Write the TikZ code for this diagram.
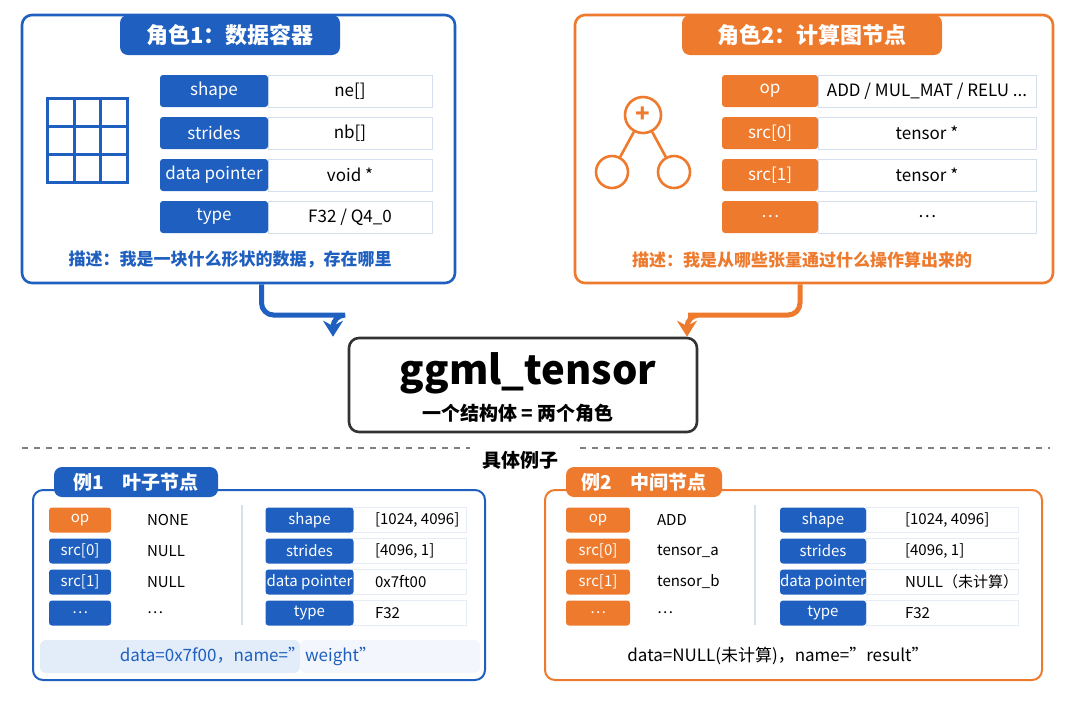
\documentclass[tikz,border=0pt]{standalone}
\usepackage{fontspec}
\setmainfont{Noto Sans CJK SC}
\usetikzlibrary{arrows.meta}
\definecolor{tblue}{HTML}{1E5FBF}
\definecolor{torange}{HTML}{EE7A2E}
\definecolor{lblue}{HTML}{E3EDFA}
\definecolor{cellline}{HTML}{D5DFEE}
\newcommand{\dq}{\symbol{34}}
\tikzset{
  px/.style={x=0.5pt,y=-0.5pt},
  role box/.style={draw=#1,line width=1.3pt,rounded corners=5pt,fill=white},
  role tab/.style={fill=#1,rounded corners=4pt,text=white,font=\fontsize{11}{13}\selectfont\bfseries,inner sep=0pt},
  key/.style={fill=#1,rounded corners=1.5pt,text=white,inner sep=0pt,minimum height=16pt,font=\fontsize{8.5}{10}\selectfont},
  val/.style={draw=cellline,fill=white,inner sep=0pt,minimum height=16pt,font=\fontsize{8.5}{10}\selectfont},
  skey/.style={fill=#1,rounded corners=1.5pt,text=white,inner sep=0pt,minimum height=12.5pt,font=\fontsize{7.5}{9}\selectfont},
  sval/.style={draw=cellline!60,inner sep=0pt,minimum height=12.5pt,font=\fontsize{7.5}{9}\selectfont},
  link/.style={line width=2.5pt,rounded corners=6pt,-{Stealth[length=8pt,width=10pt]}},
}
\begin{document}
\begin{tikzpicture}[px]
\useasboundingbox (0,0) rectangle (1080,720);

% role 1: data container
\node[role box=tblue,minimum width=216.5pt,minimum height=134pt] (role1) at (238.5,149) {};
\node[role tab=tblue,minimum width=110pt,minimum height=20pt] (tab1) at (230,35) {角色1：数据容器};
\draw[tblue,line width=1.5pt] (47,98) rectangle (127,182)
  (47,126) -- (127,126) (47,154) -- (127,154) (74,98) -- (74,182) (100,98) -- (100,182);
\foreach \k/\v/\y [count=\i] in {shape/ne[]/91,strides/nb[]/133,data pointer/void */175,type/{F32 / Q4\_0}/217}{
  \node[val,minimum width=82pt] (v1\i) at (350,\y) {\v};
  \node[key=tblue,minimum width=54pt] (k1\i) at (214,\y) {\k};
}
\node[text=tblue,font=\fontsize{8.5}{10}\selectfont\bfseries] (desc1) at (230,260) {描述：我是一块什么形状的数据，存在哪里};

% role 2: graph node
\node[role box=torange,minimum width=239pt,minimum height=134pt] (role2) at (814,149) {};
\node[role tab=torange,minimum width=130pt,minimum height=20pt] (tab2) at (812,35) {角色2：计算图节点};
\node[draw=torange,line width=1.3pt,circle,minimum size=18pt,inner sep=0pt,text=torange,font=\large\bfseries] (plus) at (643,115) {+};
\node[draw=torange,line width=1.3pt,circle,minimum size=16pt] (lchild) at (612,172) {};
\node[draw=torange,line width=1.3pt,circle,minimum size=16pt] (rchild) at (674,172) {};
\draw[torange,line width=1.3pt] (plus) -- (lchild) (plus) -- (rchild);
\foreach \k/\v/\y [count=\i] in {op/{ADD / MUL\_MAT / RELU ...}/91,src[0]/tensor */133,src[1]/tensor */175,\dots/\dots/217}{
  \node[val,minimum width=109pt] (v2\i) at (927,\y) {\v};
  \node[key=torange,minimum width=48pt] (k2\i) at (770,\y) {\k};
}
\node[text=torange,font=\fontsize{8.5}{10}\selectfont\bfseries] (desc2) at (802,260) {描述：我是从哪些张量通过什么操作算出来的};

% the struct
\node[draw=black!80,line width=1.3pt,rounded corners=5pt,minimum width=174pt,minimum height=47pt] (core) at (523,385) {};
\node[font=\fontsize{20}{24}\selectfont\bfseries] (name) at (528,373) {ggml\_tensor};
\node[font=\fontsize{9.5}{11}\selectfont\bfseries] (sub) at (518,413) {一个结构体 = 两个角色};
\draw[link,tblue] ([xshift=11.5]role1.south) |- (339,315) -| ([xshift=-95]core.north);
\draw[link,torange] ([xshift=-7]role2.south) |- (700,315) -| ([xshift=82]core.north);

% examples
\node[font=\fontsize{9.5}{11}\selectfont\bfseries] (ex) at (520,460) {具体例子};
\draw[gray,dashed,line width=0.6pt] (22,448) -- (470,448) (580,448) -- (1050,448);

\node[role box=tblue,line width=1pt,minimum width=226pt,minimum height=95pt] (ex1) at (259,585) {};
\fill[lblue,rounded corners=3pt] (40,640) rectangle (300,673);
\fill[lblue!45,rounded corners=3pt] (300,640) rectangle (480,673);
\node[role tab=tblue,font=\fontsize{9.5}{11}\selectfont\bfseries,minimum width=82pt,minimum height=15pt] (etab1) at (136,482) {例1\quad 叶子节点};
\draw[cellline,line width=0.8pt] (242,505) -- (242,625);
\node[skey=torange,minimum width=31pt] (a0) at (80,520) {op};
\node[anchor=west,font=\fontsize{7.5}{9}\selectfont] (av0) at (140,520) {NONE};
\foreach \k/\v/\y [count=\i] in {src[0]/NULL/551,src[1]/NULL/582,\dots/\dots/613}{
  \node[skey=tblue,minimum width=31pt] (a\i) at (80,\y) {\k};
  \node[anchor=west,font=\fontsize{7.5}{9}\selectfont] (av\i) at (140,\y) {\v};
}
\foreach \k/\v/\y [count=\i] in {shape/{[1024, 4096]}/520,strides/{[4096, 1]}/551,data pointer/0x7ft00/582,type/F32/613}{
  \node[sval,minimum width=57pt] (bv\i) at (409.5,\y) {};
  \node[anchor=west,font=\fontsize{7.5}{9}\selectfont] at (368,\y) {\v};
  \node[skey=tblue,minimum width=44pt] (b\i) at (309.5,\y) {\k};
}
\node[text=tblue,font=\fontsize{8.5}{10}\selectfont] (note1) at (248,656) {data=0x7f00，name=\dq weight\dq};

\node[role box=torange,line width=1pt,minimum width=248.5pt,minimum height=95pt] (ex2) at (793.5,585) {};
\node[role tab=torange,font=\fontsize{9.5}{11}\selectfont\bfseries,minimum width=78pt,minimum height=15pt] (etab2) at (644,482) {例2\quad 中间节点};
\draw[cellline,line width=0.8pt] (755,505) -- (755,625);
\foreach \k/\v/\y [count=\i] in {op/ADD/520,src[0]/tensor\_a/551,src[1]/tensor\_b/582,\dots/\dots/613}{
  \node[skey=torange,minimum width=32pt] (c\i) at (598,\y) {\k};
  \node[anchor=west,font=\fontsize{7.5}{9}\selectfont] (cv\i) at (650,\y) {\v};
}
\foreach \k/\v/\y [count=\i] in {shape/{[1024, 4096]}/520,strides/{[4096, 1]}/551,data pointer/NULL（未计算）/582,type/F32/613}{
  \node[sval,minimum width=76pt] (dv\i) at (942,\y) {};
  \node[anchor=west,font=\fontsize{7.5}{9}\selectfont] at (898,\y) {\v};
  \node[skey=tblue,minimum width=43pt] (d\i) at (823,\y) {\k};
}
\node[font=\fontsize{8.5}{10}\selectfont] (note2) at (778,656) {data=NULL(未计算)，name=\dq result\dq};
\end{tikzpicture}
\end{document}
